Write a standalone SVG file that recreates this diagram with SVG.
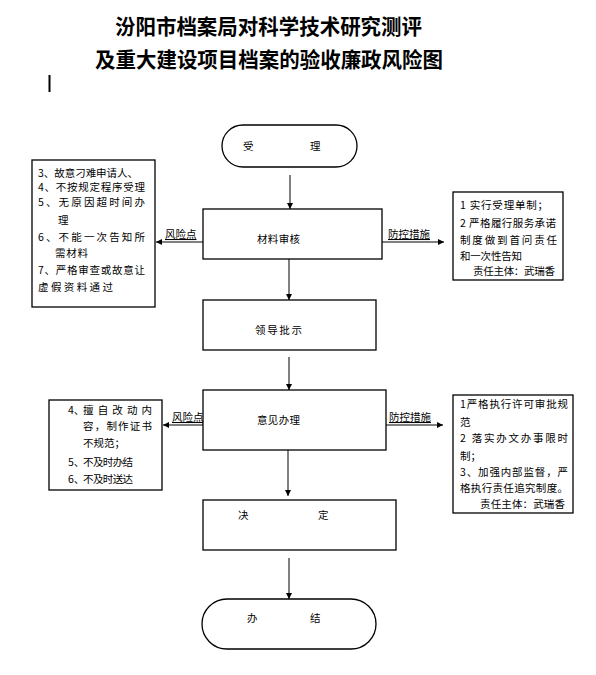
<svg xmlns="http://www.w3.org/2000/svg" width="596" height="675" viewBox="0 0 596 675">
<defs>
<style>
.t{font-family:"Noto Sans CJK SC","Noto Sans",sans-serif;font-size:10.5px;fill:#000}
.title{font-family:"Noto Sans CJK SC","Noto Sans",sans-serif;font-size:21px;font-weight:bold;fill:#000}
.box{fill:#fff;stroke:#000;stroke-width:1.3}
.c{stroke:#808080;stroke-width:2;fill:none;marker-end:url(#ah)}
.lab{font-family:"Noto Sans CJK SC","Noto Sans",sans-serif;font-size:10.5px;fill:#000;text-decoration:underline}
</style>
<marker id="ah" markerUnits="userSpaceOnUse" markerWidth="8" markerHeight="8" refX="6" refY="3" orient="auto">
<path d="M0,0 L6,3 L0,6 Z" fill="#000"/>
</marker>
</defs>
<rect width="596" height="675" fill="#fff"/>
<g id="title">
<text class="title" x="115" y="34" textLength="307" lengthAdjust="spacingAndGlyphs">汾阳市档案局对科学技术研究测评</text>
<text class="title" x="95" y="67" textLength="348" lengthAdjust="spacingAndGlyphs">及重大建设项目档案的验收廉政风险图</text>
<line x1="49.5" y1="75" x2="49.5" y2="92" stroke="#000" stroke-width="2"/>
</g>
<g id="connectors">
<line class="c" x1="290" y1="175" x2="290" y2="209"/>
<line class="c" x1="289" y1="259" x2="289" y2="300"/>
<line class="c" x1="289" y1="357" x2="289" y2="390"/>
<line class="c" x1="288" y1="450" x2="288" y2="496"/>
<line class="c" x1="289" y1="558" x2="289" y2="599"/>
<line class="c" x1="203" y1="242" x2="156" y2="242"/>
<line class="c" x1="382" y1="242" x2="444" y2="242"/>
<line class="c" x1="203" y1="425" x2="163" y2="425"/>
<line class="c" x1="386" y1="425" x2="443" y2="425"/>
<text class="lab" x="165" y="238">风险点</text>
<text class="lab" x="388" y="238">防控措施</text>
<text class="lab" x="172" y="421">风险点</text>
<text class="lab" x="389" y="421">防控措施</text>
</g>
<g id="start">
<rect class="box" x="222" y="125" width="135" height="42" rx="21"/>
<text class="t" x="243" y="150">受</text>
<text class="t" x="310" y="150">理</text>
</g>
<g id="review">
<rect class="box" x="203" y="209" width="179" height="50"/>
<text class="t" x="257" y="243" textLength="43" lengthAdjust="spacing">材料审核</text>
</g>
<g id="risk1">
<rect class="box" x="32" y="160" width="123" height="147"/>
<text class="t" x="38" y="177" textLength="100" lengthAdjust="spacing">3、故意刁难申请人、</text>
<text class="t" x="38" y="191" textLength="107" lengthAdjust="spacing">4、不按规定程序受理</text>
<text class="t" x="38" y="206" textLength="107" lengthAdjust="spacing">5、无原因超时间办</text>
<text class="t" x="58" y="224">理</text>
<text class="t" x="38" y="241" textLength="107" lengthAdjust="spacing">6、不能一次告知所</text>
<text class="t" x="55" y="257" textLength="33" lengthAdjust="spacing">需材料</text>
<text class="t" x="38" y="274" textLength="107" lengthAdjust="spacing">7、严格审查或故意让</text>
<text class="t" x="38" y="291" textLength="75" lengthAdjust="spacing">虚假资料通过</text>
</g>
<g id="measure1">
<rect class="box" x="453" y="192" width="110" height="88"/>
<text class="t" x="460" y="209" textLength="88" lengthAdjust="spacing">1 实行受理单制；</text>
<text class="t" x="460" y="227" textLength="96" lengthAdjust="spacing">2 严格履行服务承诺</text>
<text class="t" x="460" y="244" textLength="97" lengthAdjust="spacing">制度做到首问责任</text>
<text class="t" x="460" y="260" textLength="62" lengthAdjust="spacing">和一次性告知</text>
<text class="t" x="473" y="275" textLength="82" lengthAdjust="spacing">责任主体：武瑞香</text>
</g>
<g id="approve">
<rect class="box" x="203" y="300" width="173" height="50"/>
<text class="t" x="255" y="334" textLength="47" lengthAdjust="spacing">领导批示</text>
</g>
<g id="handle">
<rect class="box" x="203" y="390" width="183" height="60"/>
<text class="t" x="257" y="424" textLength="43" lengthAdjust="spacing">意见办理</text>
</g>
<g id="risk2">
<rect class="box" x="49" y="400" width="113" height="90"/>
<text class="t" x="68" y="414">4、</text>
<text class="t" x="83" y="414" textLength="69" lengthAdjust="spacing">擅自改动内</text>
<text class="t" x="83" y="430" textLength="69" lengthAdjust="spacing">容，制作证书</text>
<text class="t" x="83" y="447" textLength="42" lengthAdjust="spacing">不规范；</text>
<text class="t" x="68" y="466">5、</text>
<text class="t" x="83" y="466" textLength="50" lengthAdjust="spacing">不及时办结</text>
<text class="t" x="68" y="483">6、</text>
<text class="t" x="83" y="483" textLength="50" lengthAdjust="spacing">不及时送达</text>
</g>
<g id="measure2">
<rect class="box" x="453" y="395" width="120" height="118"/>
<text class="t" x="460" y="408" textLength="108" lengthAdjust="spacing">1严格执行许可审批规</text>
<text class="t" x="460" y="426">范</text>
<text class="t" x="460" y="442" textLength="108" lengthAdjust="spacing">2 落实办文办事限时</text>
<text class="t" x="460" y="460">制；</text>
<text class="t" x="460" y="476" textLength="108" lengthAdjust="spacing">3、加强内部监督，严</text>
<text class="t" x="460" y="492" textLength="108" lengthAdjust="spacing">格执行责任追究制度。</text>
<text class="t" x="480" y="508" textLength="85" lengthAdjust="spacing">责任主体：武瑞香</text>
</g>
<g id="decide">
<rect class="box" x="203" y="500" width="193" height="50"/>
<text class="t" x="238" y="519">决</text>
<text class="t" x="318" y="519">定</text>
</g>
<g id="end">
<rect class="box" x="202" y="599" width="174" height="50" rx="25"/>
<text class="t" x="247" y="622">办</text>
<text class="t" x="310" y="622">结</text>
</g>
</svg>
